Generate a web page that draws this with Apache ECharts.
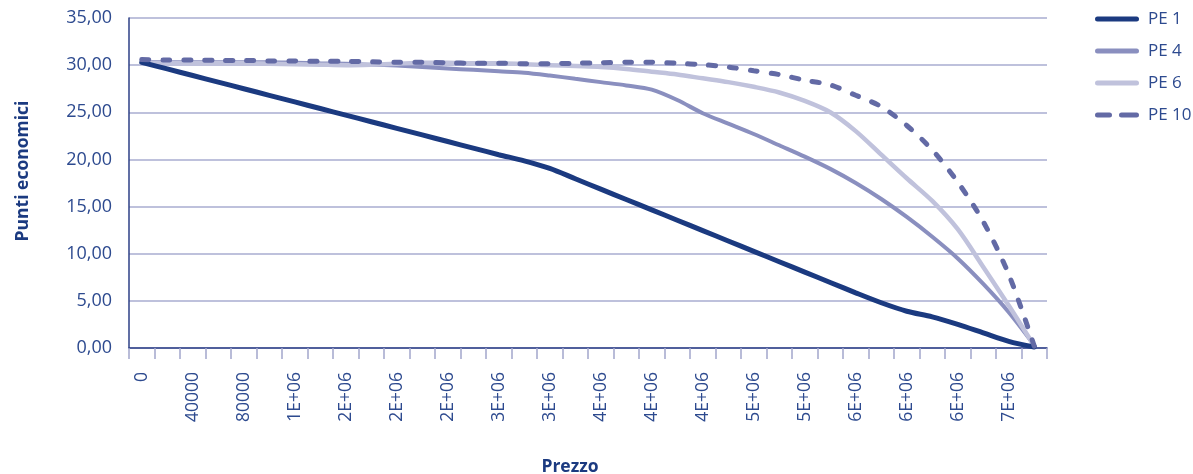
<!DOCTYPE html>
<html>
<head>
<meta charset="utf-8">
<script src="https://cdn.jsdelivr.net/npm/echarts@6/dist/echarts.min.js"></script>
<style>html,body{margin:0;padding:0;background:#fff}#c{width:1193px;height:474px}</style>
</head>
<body>
<div id="c"></div>
<script>
// Prices (category axis), step 200000
const prices = [0,200000,400000,600000,800000,1000000,1200000,1400000,1600000,1800000,2000000,2200000,2400000,2600000,2800000,3000000,3200000,3400000,3600000,3800000,4000000,4200000,4400000,4600000,4800000,5000000,5200000,5400000,5600000,5800000,6000000,6200000,6400000,6600000,6800000,7000000];
// Tick labels shown under every other category
const tickLabels = ['0','40000','80000','1E+06','2E+06','2E+06','2E+06','3E+06','3E+06','4E+06','4E+06','4E+06','5E+06','5E+06','6E+06','6E+06','6E+06','7E+06'];
const seriesNames = ['PE 1','PE 4','PE 6','PE 10'];
const pe1 = [30.3,29.6,28.9,28.2,27.5,26.8,26.1,25.4,24.7,24.0,23.3,22.6,21.9,21.2,20.5,19.85,19.05,17.95,16.85,15.75,14.65,13.55,12.45,11.35,10.25,9.15,8.05,6.95,5.85,4.8,3.9,3.3,2.5,1.6,0.7,0.1];
const pe4 = [30.3,30.3,30.3,30.3,30.3,30.3,30.25,30.2,30.15,30.05,29.95,29.8,29.65,29.5,29.35,29.2,28.9,28.55,28.2,27.85,27.4,26.3,24.9,23.8,22.7,21.5,20.3,19.0,17.5,15.8,13.9,11.8,9.5,6.8,3.8,0.3];
const pe6 = [30.2,30.2,30.2,30.2,30.2,30.15,30.1,30.05,30.0,30.05,30.15,30.25,30.25,30.2,30.2,30.1,30.0,29.9,29.8,29.6,29.3,29.0,28.6,28.2,27.7,27.1,26.2,25.0,23.0,20.5,18.0,15.6,12.6,8.6,4.5,0.2];
const pe10 = [30.6,30.55,30.55,30.5,30.5,30.45,30.45,30.4,30.4,30.35,30.3,30.3,30.25,30.2,30.2,30.15,30.15,30.2,30.25,30.3,30.3,30.2,30.05,29.8,29.4,29.0,28.4,27.9,26.8,25.6,23.6,21.0,17.6,13.4,7.8,0.2];
const yTicks = [0,5,10,15,20,25,30,35];

const textColor = '#2d4a8f';
const titleColor = '#1b3a80';
const font = "'Open Sans', 'Noto Sans', sans-serif";
const colors = ['#1b3a80','#8a8fbf','#c0c2dc','#636aa5'];
const widths = [5,4,4.5,5];
const dataSets = [pe1,pe4,pe6,pe10];
const solidIcon = 'path://M2.5,0 H41.5 A2.5,2.5 0 0 1 41.5,5 H2.5 A2.5,2.5 0 0 1 2.5,0 Z';
const dashIcon = 'path://M2.5,0 H14.5 A2.5,2.5 0 0 1 14.5,5 H2.5 A2.5,2.5 0 0 1 2.5,0 Z M26.5,0 H41.5 A2.5,2.5 0 0 1 41.5,5 H26.5 A2.5,2.5 0 0 1 26.5,0 Z';

const chart = echarts.init(document.getElementById('c'));
chart.setOption({
  animation: false,
  backgroundColor: '#fff',
  grid: {left: 129, right: 146, top: 18, bottom: 126, containLabel: false, outerBoundsMode: 'none'},
  legend: {
    orient: 'vertical', left: 1090, top: 2,
    itemWidth: 44, itemHeight: 5, itemGap: 8,
    symbolKeepAspect: false,
    itemStyle: {borderWidth: 0},
    textStyle: {color: textColor, fontSize: 17, lineHeight: 24, fontFamily: font, padding: [0,0,0,4]},
    data: seriesNames.map((n,i)=>({name:n, icon: i===3 ? dashIcon : solidIcon}))
  },
  xAxis: {
    type: 'category',
    data: prices,
    boundaryGap: true,
    name: 'Prezzo',
    nameLocation: 'middle',
    nameGap: 110,
    nameTextStyle: {color: titleColor, fontSize: 17.5, fontWeight: 'bold', fontFamily: font, padding: [0,36,0,0]},
    axisLine: {lineStyle: {color: '#2c3f86', width: 1.5}},
    axisTick: {show: true, interval: 0, length: 11, lineStyle: {color: '#a3a6cb', width: 1.5}},
    axisLabel: {
      interval: 0, rotate: 90, margin: 24,
      color: textColor, fontSize: 17.5, fontFamily: font,
      formatter: (v, i) => (i % 2 === 0 ? tickLabels[i/2] : '')
    },
    splitLine: {show: false}
  },
  yAxis: {
    type: 'value',
    min: yTicks[0], max: yTicks[yTicks.length-1], interval: 5,
    name: 'Punti economici',
    nameLocation: 'middle',
    nameGap: 97,
    nameTextStyle: {color: titleColor, fontSize: 17.5, fontWeight: 'bold', fontFamily: font, padding: [0,0,0,24]},
    axisLine: {show: true, lineStyle: {color: '#2c3f86', width: 1.5}},
    axisTick: {show: false},
    axisLabel: {
      margin: 17, color: textColor, fontSize: 18, fontFamily: font,
      formatter: v => v.toFixed(2).replace('.', ',')
    },
    splitLine: {lineStyle: {color: '#a9acd0', width: 1.5}}
  },
  series: dataSets.map((d,i)=>({
    name: seriesNames[i],
    type: 'line',
    data: d,
    smooth: 0.3,
    symbol: 'none',
    z: i===0 ? 5 : (i===3 ? 6 : 3+i*0.1),
    color: colors[i],
    lineStyle: {
      color: colors[i], width: widths[i], cap: 'round',
      type: i===3 ? [7,14] : 'solid'
    }
  }))
});
</script>
</body>
</html>
